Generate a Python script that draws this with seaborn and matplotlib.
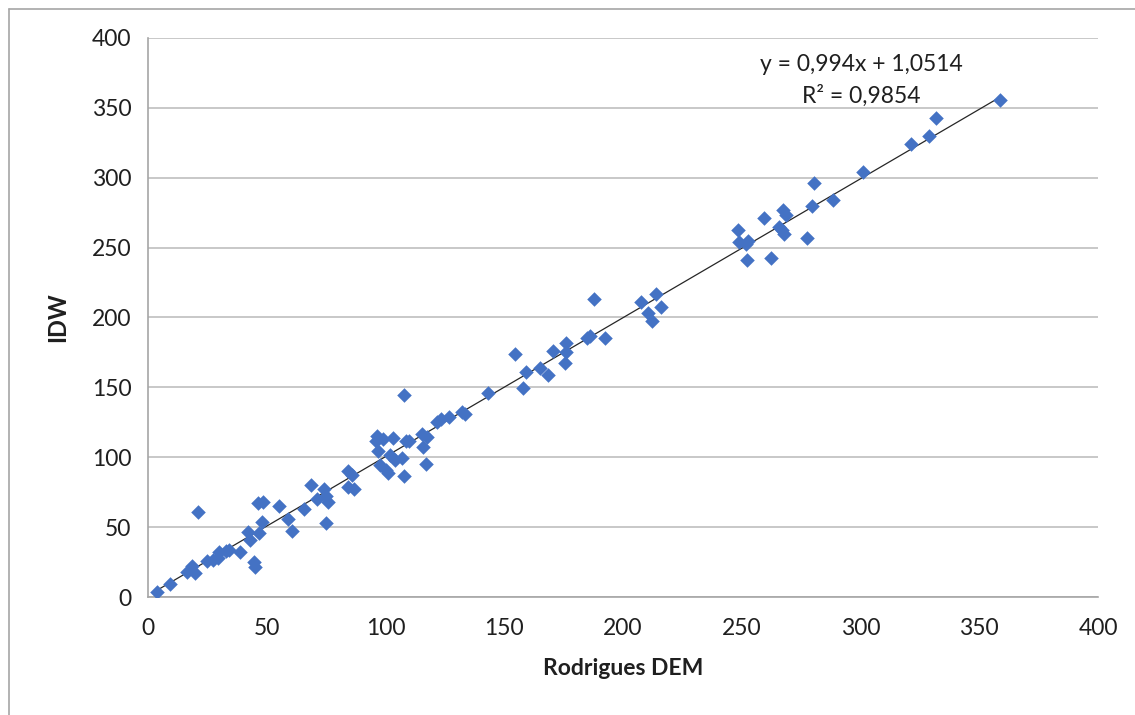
import matplotlib
matplotlib.use("Agg")
import matplotlib.pyplot as plt
import seaborn as sns
import pandas as pd
import numpy as np
from matplotlib.lines import Line2D

# -----------------------------
# DATA
# -----------------------------
rodrigues_dem = [
    3.8, 9.3, 16.4, 18.5, 19.8, 21.0, 24.8, 27.4, 29.5, 30.0,
    33.0, 34.0, 38.7, 42.0, 43.0, 44.6, 45.0, 46.3, 48.4, 48.0,
    46.7, 55.0, 59.0, 60.6, 65.7, 68.6, 71.0, 74.0, 75.0, 75.0,
    75.8, 84.0, 84.0, 86.0, 86.7, 96.4, 96.0, 97.0, 97.7, 99.0,
    100.0, 101.0, 102.0, 103.0, 104.0, 107.8, 107.0, 107.8, 108.6, 110.0,
    115.4, 115.8, 117.0, 117.5, 121.7, 123.4, 126.7, 132.0, 133.5, 143.0,
    154.5, 158.0, 159.0, 165.0, 168.4, 170.5, 176.0, 176.0, 175.6, 184.8,
    186.0, 187.8, 192.4, 207.6, 210.5, 212.0, 214.0, 216.0, 248.4, 248.8,
    251.8, 252.6, 252.2, 259.4, 262.3, 265.7, 267.8, 267.4, 268.6, 267.0,
    277.5, 279.6, 280.4, 288.4, 301.0, 321.3, 329.0, 331.8, 358.7,
]
idw = [
    3.6, 9.3, 17.9, 22.0, 17.0, 61.0, 25.8, 26.5, 28.0, 32.0,
    33.0, 34.0, 32.0, 46.5, 40.8, 25.0, 21.5, 67.0, 68.0, 53.7,
    45.8, 65.0, 56.0, 47.0, 63.0, 80.0, 70.0, 77.0, 72.0, 53.0,
    68.0, 90.0, 78.7, 87.0, 77.0, 115.0, 111.6, 104.5, 94.5, 113.0,
    91.0, 89.0, 101.6, 113.8, 98.0, 144.5, 99.5, 86.6, 111.6, 111.6,
    117.0, 107.3, 95.0, 114.5, 125.0, 127.4, 128.8, 132.4, 131.0, 146.0,
    174.0, 149.6, 161.0, 164.0, 158.8, 176.0, 181.8, 175.0, 167.4, 185.3,
    186.8, 213.0, 185.3, 211.0, 203.0, 197.5, 216.8, 207.5, 262.6, 254.0,
    252.6, 254.7, 241.0, 271.0, 242.6, 264.8, 259.7, 277.0, 273.0, 262.6,
    257.0, 280.0, 296.0, 284.0, 304.0, 324.0, 330.0, 342.8, 355.6,
]
slope = 0.994
intercept = 1.0514
r_squared = 0.9854

df = pd.DataFrame({"Rodrigues DEM": rodrigues_dem, "IDW": idw})

# -----------------------------
# PLOT
# -----------------------------
sns.set_style("white")
plt.rcParams["font.family"] = ["Lato", "DejaVu Sans"]

fig = plt.figure(figsize=(11.35, 7.15), dpi=100)
ax = fig.add_axes([0.1304, 0.1650, 0.8370, 0.7819])

grey = "#A6A6A6"
text_col = "#1F1F1F"
ax.set_xlim(0, 400)
ax.set_ylim(0, 400)
ax.set_xticks(range(0, 401, 50))
ax.set_yticks(range(0, 401, 50))
ax.yaxis.grid(True, color="#BFBFBF", linewidth=1.2)
ax.xaxis.grid(False)
ax.set_axisbelow(True)
for side in ["top", "right"]:
    ax.spines[side].set_visible(False)
for side in ["left", "bottom"]:
    ax.spines[side].set_color(grey)
    ax.spines[side].set_linewidth(1.2)
ax.tick_params(axis="both", direction="out", length=7, width=1.2, color=grey,
               labelsize=16.5, labelcolor=text_col, pad=5)
ax.tick_params(axis="x", pad=8)

# trendline from the stated equation over the data range
xs = np.array([min(rodrigues_dem), max(rodrigues_dem)])
ax.plot(xs, slope * xs + intercept, color="#262626", linewidth=0.9, zorder=2)

sns.scatterplot(data=df, x="Rodrigues DEM", y="IDW", marker="D", s=55,
                color="#4472C4", linewidth=0, ax=ax, zorder=3)

eq = f"y = {slope:.3f}x + {intercept:.4f}".replace(".", ",")
r2 = f"R² = {r_squared:.4f}".replace(".", ",")
ax.text(300.5, 381, eq, ha="center", va="center", fontsize=16.5, color=text_col)
ax.text(300.5, 359, r2, ha="center", va="center", fontsize=16.5, color=text_col)

ax.set_xlabel("Rodrigues DEM", fontsize=16.5, fontweight="bold", color=text_col, labelpad=14)
ax.set_ylabel("IDW", fontsize=17, fontweight="bold", color=text_col, labelpad=16)

# chart-area border (left and top edges visible in the screenshot)
fig.add_artist(Line2D([9 / 1135, 9 / 1135], [0, 1 - 9 / 715], color=grey, linewidth=1.2))
fig.add_artist(Line2D([9 / 1135, 1], [1 - 9 / 715, 1 - 9 / 715], color=grey, linewidth=1.2))

plt.savefig("out.png", dpi=100, facecolor="white")
